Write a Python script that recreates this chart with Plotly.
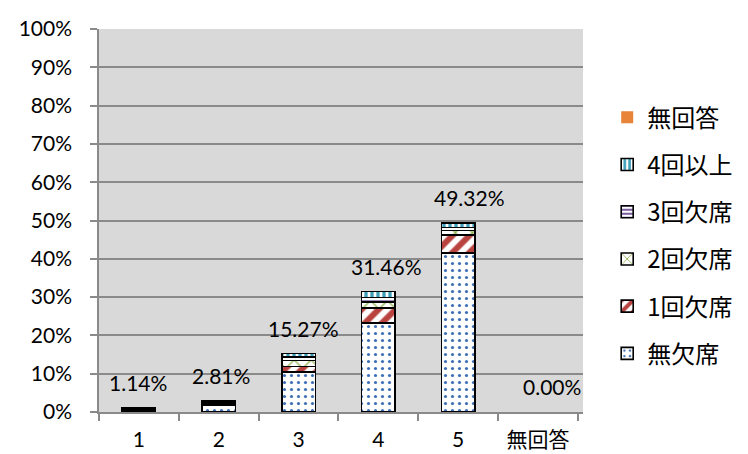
import plotly.graph_objects as go

categories = ["1", "2", "3", "4", "5", "無回答"]
series_names = ["無欠席", "1回欠席", "2回欠席", "3回欠席", "4回以上", "無回答"]
no_absence = [0.5, 1.9, 10.4, 23.2, 41.5, 0.0]
absent_1 = [0.2, 0.3, 1.5, 3.9, 4.7, 0.0]
absent_2 = [0.15, 0.2, 1.6, 1.6, 1.2, 0.0]
absent_3 = [0.1, 0.2, 0.9, 1.2, 0.8, 0.0]
absent_4plus = [0.19, 0.21, 0.87, 1.56, 1.12, 0.0]
no_answer = [0.0, 0.0, 0.0, 0.0, 0.0, 0.0]
y_ticks = [0, 10, 20, 30, 40, 50, 60, 70, 80, 90, 100]
y_tick_labels = [f"{v}%" for v in y_ticks]

series_values = [no_absence, absent_1, absent_2, absent_3, absent_4plus, no_answer]
styles = [
    dict(shape=".", fg="#3e6fb5", size=7, solidity=0.16),
    dict(shape="/", fg="#b8433f", size=12, solidity=0.5),
    dict(shape="x", fg="#8fb04a", size=12, solidity=0.2),
    dict(shape="-", fg="#7a5ea0", size=5, solidity=0.5),
    dict(shape="|", fg="#3f9fba", size=6, solidity=0.55),
    None,
]

NUM_FONT = "Lato, 'Noto Sans CJK JP', sans-serif"
JP_FONT = "'Noto Sans CJK JP', sans-serif"

fig = go.Figure()
n = len(series_names)
for k, (name, vals, st) in enumerate(zip(series_names, series_values, styles)):
    if st is None:
        marker = dict(color="#e8833a", line=dict(color="#e8833a", width=0))
    else:
        marker = dict(
            color="white",
            line=dict(color="black", width=[1.6 if v > 0 else 0 for v in vals]),
            pattern=dict(shape=st["shape"], fgcolor=st["fg"], bgcolor="white",
                         fgopacity=1, size=st["size"], solidity=st["solidity"],
                         fillmode="replace"),
        )
    fig.add_trace(go.Bar(x=categories, y=vals, name=name, marker=marker,
                         width=0.42, legendgroup=name, legendrank=n - k))

totals = [sum(v[i] for v in series_values) for i in range(len(categories))]
for i, t in enumerate(totals):
    fig.add_annotation(x=i, y=t, xref="x", yref="y", text=f"{t:.2f}%", showarrow=False,
                       yanchor="bottom", yshift=11, xshift=3 * i - 1,
                       font=dict(family=NUM_FONT, size=21, color="black"))

# page body has an 8px margin, so the figure is shrunk and margins compensated
fig.update_layout(
    barmode="stack",
    width=740, height=446,
    margin=dict(l=91, r=165, t=21, b=42, autoexpand=False),
    paper_bgcolor="white",
    plot_bgcolor="#d9d9d9",
    showlegend=True,
    legend=dict(x=1.05, y=0.827, xanchor="left", yanchor="top",
                traceorder="grouped", tracegroupgap=13,
                font=dict(family=JP_FONT, size=24, color="black"),
                bgcolor="rgba(0,0,0,0)"),
    xaxis=dict(type="category", tickson="boundaries", ticks="outside", ticklen=7,
               tickcolor="#8a8a8a", tickwidth=1.5, showline=True, linecolor="#8a8a8a",
               linewidth=1.5, showgrid=False, ticklabelstandoff=8, automargin=False,
               tickfont=dict(family=NUM_FONT, size=21, color="black")),
    yaxis=dict(range=[0, 100], tickvals=y_ticks, ticktext=y_tick_labels, ticks="outside",
               ticklen=7, tickcolor="#8a8a8a", tickwidth=1.5, showline=True,
               linecolor="#8a8a8a", linewidth=1.5, gridcolor="#8a8a8a", gridwidth=1.5,
               zeroline=False, ticklabelstandoff=14, automargin=False,
               tickfont=dict(family=NUM_FONT, size=21, color="black")),
)

fig.write_html("out.html")
